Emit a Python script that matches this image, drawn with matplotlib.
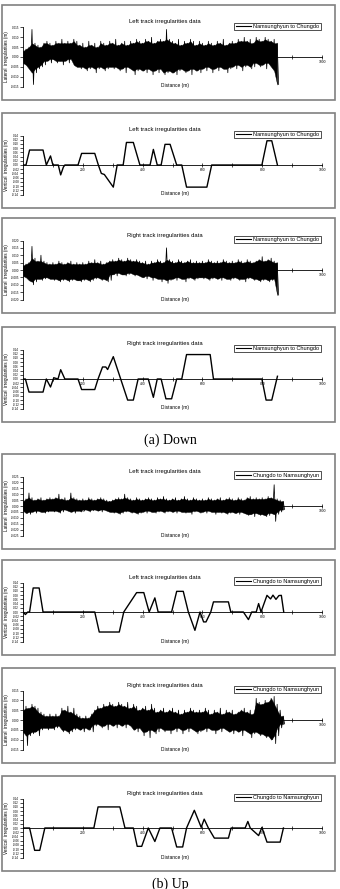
import numpy as np
import matplotlib.pyplot as plt
from matplotlib.patches import Rectangle
from matplotlib.lines import Line2D

plt.rcParams['font.family'] = ['Liberation Sans', 'DejaVu Sans']

W, H = 340, 889

# ---- lateral irregularities: upper / lower edge of the band (mm), every 10 m ----
down_left_lat_up = [3, 4, 5, 14, 7, 6, 5, 7, 8, 7,
                    6, 8, 7, 9, 7, 8, 7, 9, 8, 6,
                    7, 5, 8, 6, 7, 5, 8, 7, 6, 8,
                    7, 9, 6, 7, 8, 6, 8, 7, 9, 8,
                    7, 9, 8, 10, 7, 8, 9, 8, 14, 9,
                    8, 7, 9, 6, 8, 7, 9, 8, 6, 8,
                    7, 6, 8, 7, 6, 8, 7, 9, 6, 7,
                    8, 7, 9, 8, 10, 8, 9, 7, 10, 9,
                    8, 10, 9, 8, 9, 7]
down_left_lat_lo = [-3, -4, -6, -14, -8, -6, -5, -4, -2, -3,
                    -1, -3, -2, -4, -2, -3, -1, -4, -5, -6,
                    -5, -7, -6, -5, -8, -6, -5, -7, -6, -5,
                    -6, -5, -7, -6, -8, -5, -6, -9, -7, -6,
                    -7, -8, -6, -9, -7, -8, -6, -9, -8, -7,
                    -8, -9, -7, -6, -8, -7, -9, -6, -7, -8,
                    -6, -7, -5, -8, -6, -7, -5, -6, -8, -6,
                    -5, -6, -4, -7, -5, -4, -6, -5, -3, -5,
                    -4, -6, -3, -5, -7, -14]

down_right_lat_up = [3, 4, 5, 16, 8, 6, 10, 6, 5, 4,
                     5, 4, 6, 5, 4, 5, 6, 4, 5, 4,
                     5, 4, 6, 5, 7, 5, 6, 4, 5, 6,
                     7, 6, 8, 7, 6, 8, 7, 6, 7, 6,
                     5, 6, 4, 6, 5, 7, 6, 5, 15, 7,
                     6, 5, 7, 6, 5, 6, 7, 5, 6, 5,
                     6, 5, 7, 6, 5, 6, 5, 7, 6, 5,
                     6, 5, 7, 6, 5, 7, 6, 5, 6, 7,
                     9, 6, 7, 8, 6, 5]
down_right_lat_lo = [-4, -5, -7, -10, -8, -6, -7, -6, -5, -6,
                     -7, -6, -8, -7, -6, -8, -7, -6, -7, -8,
                     -7, -6, -8, -7, -6, -5, -7, -6, -8, -7,
                     -3, -4, -2, -3, -4, -3, -2, -4, -3, -4,
                     -5, -6, -4, -7, -5, -6, -8, -6, -9, -7,
                     -6, -7, -5, -6, -8, -6, -5, -7, -6, -5,
                     -6, -5, -7, -6, -5, -6, -7, -5, -6, -7,
                     -6, -5, -7, -6, -8, -6, -5, -7, -6, -8,
                     -7, -6, -8, -7, -6, -17]

up_left_lat_up = [4, 6, 11, 7, 5, 6, 7, 5, 6, 7,
                  6, 7, 10, 6, 7, 5, 11, 7, 6, 5,
                  6, 5, 7, 6, 5, 6, 7, 6, 5, 4,
                  5, 6, 7, 6, 10, 7, 6, 5, 7, 6,
                  5, 6, 7, 6, 5, 7, 6, 8, 6, 5,
                  6, 7, 5, 6, 8, 6, 5, 7, 6, 5,
                  6, 5, 7, 6, 5, 6, 7, 5, 6, 7,
                  6, 5, 7, 6, 5, 7, 8, 6, 7, 6,
                  7, 6, 8, 7, 18, 6, 5, 4]
up_left_lat_lo = [-4, -6, -7, -5, -6, -4, -5, -6, -5, -4,
                  -5, -4, -6, -5, -3, -4, -5, -6, -4, -5,
                  -4, -3, -5, -4, -3, -4, -5, -3, -4, -5,
                  -6, -5, -7, -6, -5, -4, -6, -5, -7, -6,
                  -5, -6, -4, -5, -6, -5, -4, -6, -5, -4,
                  -5, -6, -4, -5, -6, -5, -7, -5, -4, -6,
                  -5, -6, -4, -5, -7, -5, -6, -5, -7, -6,
                  -5, -6, -7, -5, -6, -8, -7, -9, -6, -8,
                  -7, -9, -8, -6, -13, -7, -5, -3]

up_right_lat_up = [5, 7, 6, 8, 7, 6, 4, 3, 2, 3,
                   2, 3, 2, 6, 5, 7, 4, 6, 3, 2,
                   1, 2, 1, 3, 5, 7, 6, 8, 7, 9,
                   8, 7, 9, 8, 7, 9, 6, 8, 7, 5,
                   6, 7, 5, 8, 6, 4, 5, 6, 4, 5,
                   6, 4, 5, 3, 5, 4, 6, 5, 4, 5,
                   4, 6, 5, 3, 5, 4, 6, 3, 5, 4,
                   5, 3, 4, 5, 6, 4, 5, 3, 11, 9,
                   8, 10, 9, 11, 12, 8, 5, 2]
up_right_lat_lo = [-6, -13, -8, -7, -6, -8, -5, -4, -5, -4,
                   -5, -4, -3, -6, -5, -7, -6, -5, -4, -5,
                   -6, -4, -5, -6, -3, -2, -4, -3, -5, -2,
                   -3, -4, -2, -3, -4, -2, -3, -5, -6, -4,
                   -8, -6, -9, -5, -7, -6, -4, -6, -5, -7,
                   -5, -6, -4, -7, -5, -6, -4, -5, -7, -6,
                   -5, -6, -4, -5, -7, -5, -6, -4, -5, -6,
                   -7, -5, -6, -8, -5, -6, -9, -7, -6, -8,
                   -7, -9, -8, -10, -12, -8, -4, -2]

# ---- vertical irregularities: breakpoints (distance m, value m) ----
down_left_vert_d = [0, 10, 22, 30, 67, 78, 92, 100, 118, 126, 135, 140, 184, 196, 240,
                    252, 262, 272, 302, 315, 335, 346, 369, 391, 425, 436, 449, 462, 475,
                    492, 514, 531, 547, 615, 631, 799, 816, 832, 851]
down_left_vert_v = [0, 0, 0.071, 0.071, 0.071, 0, 0.043, 0, 0, -0.047, -0.01, 0, 0, 0.055, 0.055,
                    0, -0.04, -0.045, -0.105, 0, 0, 0.107, 0.107, 0, 0, 0.074, 0, 0, 0.098,
                    0.098, 0, 0, -0.105, -0.105, 0, 0, 0.115, 0.115, 0]

down_right_vert_d = [0, 8, 20, 67, 78, 92, 103, 117, 126, 140, 184, 196, 240, 251, 266, 277,
                     283, 302, 350, 369, 385, 419, 436, 449, 462, 478, 497, 514, 531, 547,
                     626, 637, 799, 813, 832, 851]
down_right_vert_v = [0, 0, -0.062, -0.062, 0, -0.038, 0.006, 0, 0.044, 0, 0, -0.05, -0.05, 0,
                     0.057, 0.057, 0.045, 0.106, -0.10, -0.10, 0, 0, -0.087, 0, 0, -0.094,
                     -0.094, 0, 0, 0.116, 0.116, 0, 0, -0.10, -0.10, 0.013]

up_left_vert_d = [0, 8, 16, 22, 34, 54, 67, 240, 255, 322, 337, 380, 404, 422, 441, 452, 497,
                  514, 536, 553, 575, 592, 604, 612, 628, 637, 687, 695, 737, 754, 765, 780,
                  788, 796, 816, 828, 836, 846, 856, 864, 872]
up_left_vert_v = [0, -0.012, 0, 0, 0.114, 0.114, 0, 0, -0.095, -0.095, 0, 0.092, 0.092, 0,
                  0.067, 0, 0, 0.098, 0.098, 0, -0.087, 0, -0.047, -0.047, 0, 0.048, 0.048,
                  0, 0, -0.036, 0, 0, 0.04, 0, 0.079, 0.062, 0.08, 0.06, 0.078, 0.079, 0]

up_right_vert_d = [0, 10, 22, 39, 56, 73, 237, 251, 324, 341, 369, 382, 397, 419, 441, 458,
                   497, 514, 534, 547, 573, 596, 606, 620, 640, 687, 696, 743, 752, 760, 788,
                   799, 816, 860, 871]
up_right_vert_v = [0, 0, 0, -0.106, -0.106, 0, 0, 0.10, 0.10, 0, 0, -0.087, -0.087, 0, -0.064,
                   0, 0, -0.09, -0.09, 0, 0.084, 0.003, 0.042, 0, -0.048, -0.048, 0, 0, 0.031,
                   0, -0.036, 0.003, -0.067, -0.067, 0]

x_major = [200, 400, 600, 800, 1000]
x_minor = [100, 300, 500, 700, 900]

fig = plt.figure(figsize=(W / 100, H / 100), dpi=100)


def panel(top, title, legend, ylabel, ymax, ystep, fmt):
    fig.add_artist(Rectangle((2 / W, 1 - (top + 95) / H), 333 / W, 95 / H,
                             transform=fig.transFigure, fill=False,
                             edgecolor='#808080', lw=1.2))
    ax = fig.add_axes([23 / W, 1 - (top + 81.5) / H, 299 / W, 59 / H])
    ax.patch.set_visible(False)
    ax.set_xlim(0, 1000)
    ax.set_ylim(-ymax, ymax)
    ax.spines[['top', 'right']].set_visible(False)
    ax.spines['bottom'].set_position(('data', 0))
    for s in ['left', 'bottom']:
        ax.spines[s].set_linewidth(0.6)
    ax.set_xticks(x_major)
    ax.set_xticks(x_minor, minor=True)
    ax.set_xticklabels([str(v) for v in x_major])
    yt = np.arange(-ymax, ymax + ystep / 2, ystep)
    ax.set_yticks(yt)
    ax.set_yticklabels([fmt % (0 if abs(v) < 1e-9 else v) for v in yt])
    ax.tick_params(axis='x', which='both', direction='inout', length=2.5, width=0.5,
                   labelsize=2.4, pad=1)
    ax.tick_params(axis='y', direction='out', length=2, width=0.5, labelsize=2.2, pad=0.8)
    fig.text(165 / W, 1 - (top + 17) / H, title, fontsize=4.2, ha='center', va='center')
    fig.text(175 / W, 1 - (top + 81) / H, 'Distance (m)', fontsize=3.5,
             ha='center', va='center')
    fig.text(6.5 / W, 1 - (top + 52) / H, ylabel, fontsize=3.3, rotation=90,
             ha='center', va='center')
    h = Line2D([], [], color='black', lw=0.8)
    leg = ax.legend([h], [legend], loc='upper right',
                    bbox_to_anchor=(321 / W, 1 - (top + 17.5) / H),
                    bbox_transform=fig.transFigure, fontsize=4, frameon=True,
                    fancybox=False, edgecolor='black', borderpad=0.25,
                    handlelength=2.8, handletextpad=0.4, borderaxespad=0)
    leg.get_frame().set_linewidth(0.6)
    return ax


def lateral(ax, upper, lower, end):
    xs = np.linspace(0, end, len(upper))
    up = np.array(upper) / 1000.0
    lo = np.array(lower) / 1000.0
    # dense core of the band: lower of two neighbouring peaks / higher of two troughs
    pu = np.pad(up, (0, 1), mode='edge')
    pl = np.pad(lo, (0, 1), mode='edge')
    core_up = np.minimum(pu[:-1], pu[1:])
    core_lo = np.maximum(pl[:-1], pl[1:])
    ax.fill_between(xs, core_lo, core_up, color='black', lw=0.3, zorder=3)
    half = (xs[1] - xs[0]) / 2
    x = np.column_stack([xs, xs + half]).ravel()
    y = np.column_stack([up, lo]).ravel()
    ax.plot(x, y, color='black', lw=0.55, zorder=3)


def vertical(ax, d, v):
    ax.plot(d, v, color='black', lw=1.0, zorder=3)


down_lbl = 'Namsunghyun to Chungdo'
up_lbl = 'Chungdo to Namsunghyun'
lat_lbl = 'Lateral  irregularities (m)'
vert_lbl = 'Vertical  irregularities (m)'

ax = panel(5, 'Left track irregularities data', down_lbl, lat_lbl, 0.015, 0.005, '%.3f')
lateral(ax, down_left_lat_up, down_left_lat_lo, 850)
ax = panel(113, 'Left track irregularities data', down_lbl, vert_lbl, 0.14, 0.02, '%.2f')
vertical(ax, down_left_vert_d, down_left_vert_v)
ax = panel(218, 'Right track irregularities data', down_lbl, lat_lbl, 0.020, 0.005, '%.3f')
lateral(ax, down_right_lat_up, down_right_lat_lo, 850)
ax = panel(327, 'Right track irregularities data', down_lbl, vert_lbl, 0.14, 0.02, '%.2f')
vertical(ax, down_right_vert_d, down_right_vert_v)

ax = panel(454, 'Left track irregularities data', up_lbl, lat_lbl, 0.025, 0.005, '%.3f')
lateral(ax, up_left_lat_up, up_left_lat_lo, 870)
ax = panel(560, 'Left track irregularities data', up_lbl, vert_lbl, 0.14, 0.02, '%.2f')
vertical(ax, up_left_vert_d, up_left_vert_v)
ax = panel(668, 'Right track irregularities data', up_lbl, lat_lbl, 0.015, 0.005, '%.3f')
lateral(ax, up_right_lat_up, up_right_lat_lo, 870)
ax = panel(776, 'Right track irregularities data', up_lbl, vert_lbl, 0.14, 0.02, '%.2f')
vertical(ax, up_right_vert_d, up_right_vert_v)

fig.text(0.5, 1 - 440 / H, '(a) Down', family='Liberation Serif', fontsize=10,
         ha='center', va='center')
fig.text(0.5, 1 - 884 / H, '(b) Up', family='Liberation Serif', fontsize=10,
         ha='center', va='center')

fig.savefig('out.png', dpi=100)
